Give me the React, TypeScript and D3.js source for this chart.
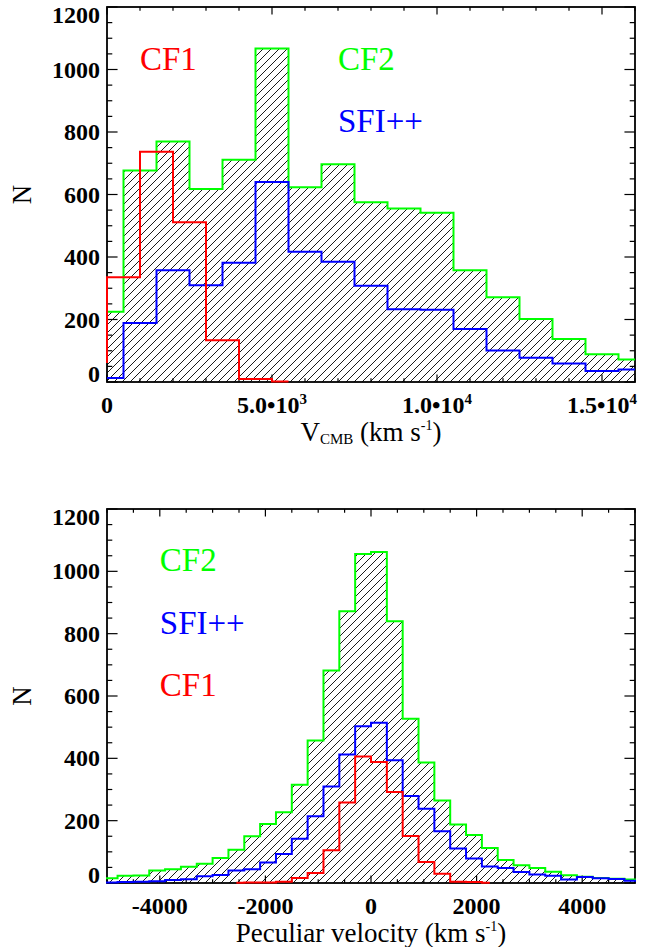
import React from 'react';
import * as d3 from 'd3';

// V_CMB histograms (bin centres in km/s, counts)
const vcmbBins = [0, 1000, 2000, 3000, 4000, 5000, 6000, 7000, 8000, 9000, 10000, 11000, 12000, 13000, 14000, 15000, 16000];
const vcmbCF2 = [225, 677, 770, 618, 711, 1067, 623, 697, 575, 555, 542, 358, 271, 202, 138, 89, 72];
const vcmbSFI = [13, 189, 358, 310, 382, 640, 417, 385, 308, 233, 231, 170, 101, 78, 59, 35, 40];
const vcmbCF1Bins = [-500, 500, 1500, 2500, 3500, 4500, 5500];
const vcmbCF1 = [64, 335, 737, 511, 134, 10, 2];
const vcmbTicks = [0, 5000, 10000, 15000];

// peculiar velocity histograms
const pvBins = [-5250, -4950, -4650, -4350, -4050, -3750, -3450, -3150, -2850, -2550, -2250, -1950, -1650, -1350, -1050, -750, -450, -150,
  150, 450, 750, 1050, 1350, 1650, 1950, 2250, 2550, 2850, 3150, 3450, 3750, 4050, 4350, 4650, 4950, 5250];
const pvCF2 = [12, 15, 23, 24, 40, 44, 52, 62, 80, 107, 150, 189, 227, 315, 457, 682, 872, 1056,
  1062, 840, 527, 387, 265, 188, 154, 112, 74, 57, 48, 36, 25, 20, 16, 14, 11, 10];
const pvSFI = [1, 2, 3, 4, 6, 10, 12, 22, 26, 40, 44, 66, 93, 142, 214, 310, 412, 503,
  514, 394, 279, 238, 166, 111, 79, 53, 48, 35, 27, 23, 11, 19, 15, 13, 7, 6];
const pvCF1Bins = [-2550, -2250, -1950, -1650, -1350, -1050, -750, -450, -150, 150, 450, 750, 1050, 1350, 1650, 1950, 2250];
const pvCF1 = [1, 2, 2, 4, 16, 32, 105, 258, 406, 388, 292, 151, 67, 30, 4, 3, 1];
const pvTicks = [-4000, -2000, 0, 2000, 4000];

const yTicks = [0, 200, 400, 600, 800, 1000, 1200];

const FONT = 'Liberation Serif';
const GREEN = '#00ff00';
const BLUE = '#0000ff';
const RED = '#ff0000';

type Series = { bins: number[]; counts: number[]; color: string };
type Note = { x: number; y: number; text: string; color: string };

function expLabel(v: number) {
  if (v === 0) return '0';
  const [m, e] = v.toExponential(1).split('e');
  return (
    <>
      {m}•10<tspan fontSize={15} dy={-9}>{+e}</tspan>
    </>
  );
}

function Panel(props: {
  id: string;
  top: number;
  bottom: number;
  xDomain: [number, number];
  xTicks: number[];
  xMinorStep: number;
  xFormat: (v: number) => React.ReactNode;
  title: React.ReactNode;
  fill: Series;
  lines: Series[];
  notes: Note[];
}) {
  const { id, top, bottom, xDomain, xTicks, xMinorStep, xFormat, title, fill, lines, notes } = props;
  const left = 107;
  const right = 635;
  const x = d3.scaleLinear().domain(xDomain).range([left, right]);
  const y = d3.scaleLinear().domain([0, 1200]).range([bottom, top]);
  const pts = (s: Series) => s.bins.map((b, i) => [b, s.counts[i]] as [number, number]);
  const step = d3
    .line<[number, number]>()
    .x((d) => x(d[0]))
    .y((d) => y(d[1]))
    .curve(d3.curveStep);
  const area = d3
    .area<[number, number]>()
    .x((d) => x(d[0]))
    .y0(y(0))
    .y1((d) => y(d[1]))
    .curve(d3.curveStep);

  const xMinor = d3.range(xDomain[0], xDomain[1] + 1, xMinorStep);
  const yMinor = d3.range(0, 1201, 50);
  const xLen = 0.02 * (bottom - top);
  const yLen = 0.02 * (right - left);

  return (
    <g>
      <defs>
        <clipPath id={`clip-${id}`}>
          <rect x={left} y={top} width={right - left} height={bottom - top} />
        </clipPath>
        <clipPath id={`clipl-${id}`}>
          <rect x={left - 1} y={top} width={right - left + 2} height={bottom - top + 1.5} />
        </clipPath>
      </defs>
      <path d={area(pts(fill)) || ''} fill="url(#hatch)" clipPath={`url(#clip-${id})`} />

      {/* frame and ticks */}
      <rect x={left} y={top} width={right - left} height={bottom - top} fill="none" stroke="#000" strokeWidth={1.8} />
      <g stroke="#000" strokeWidth={1.2}>
        {xMinor.map((v) => {
          const len = xTicks.includes(v) ? xLen : xLen / 2;
          return (
            <g key={`x${v}`}>
              <line x1={x(v)} x2={x(v)} y1={bottom} y2={bottom - len} />
              <line x1={x(v)} x2={x(v)} y1={top} y2={top + len} />
            </g>
          );
        })}
        {yMinor.map((v) => {
          const len = yTicks.includes(v) ? yLen : yLen / 2;
          return (
            <g key={`y${v}`}>
              <line x1={left} x2={left + len} y1={y(v)} y2={y(v)} />
              <line x1={right} x2={right - len} y1={y(v)} y2={y(v)} />
            </g>
          );
        })}
      </g>

      <g clipPath={`url(#clipl-${id})`} fill="none" strokeWidth={2}>
        {lines.map((s) => (
          <path key={s.color} d={step(pts(s)) || ''} stroke={s.color} />
        ))}
      </g>

      {xTicks.map((v) => (
        <text key={`xl${v}`} x={x(v)} y={bottom + 31} textAnchor="middle"
          fontFamily={FONT} fontWeight="bold" fontSize={24} fill="#000">
          {xFormat(v)}
        </text>
      ))}
      {yTicks.map((v) => {
        const c = Math.min(Math.max(y(v), top + 8), bottom - 8);
        return (
          <text key={`yl${v}`} x={100} y={c + 8} textAnchor="end"
            fontFamily={FONT} fontWeight="bold" fontSize={24} fill="#000">
            {v}
          </text>
        );
      })}

      <text x={(left + right) / 2} y={bottom + 59} textAnchor="middle" fontFamily={FONT} fontSize={27} fill="#000">
        {title}
      </text>
      <text transform={`translate(31,${(top + bottom) / 2}) rotate(-90)`} textAnchor="middle"
        fontFamily={FONT} fontSize={27} fill="#000">
        N
      </text>

      {notes.map((n) => (
        <text key={n.text} x={x(n.x)} y={y(n.y)} fill={n.color} fontFamily={FONT} fontSize={33}>
          {n.text}
        </text>
      ))}
    </g>
  );
}

export default function App(): JSX.Element {
  return (
    <svg
      width={657}
      height={947}
      style={{ position: 'absolute', left: 0, top: 0, background: '#fff' }}
    >
      <defs>
        <pattern id="hatch" patternUnits="userSpaceOnUse" width={8} height={8}>
          <path d="M-2,2 L2,-2 M0,8 L8,0 M6,10 L10,6" stroke="#000" strokeWidth={0.9} />
        </pattern>
      </defs>
      <rect width={657} height={947} fill="#fff" />
      <Panel
        id="vcmb"
        top={7}
        bottom={382}
        xDomain={[0, 16000]}
        xTicks={vcmbTicks}
        xMinorStep={1000}
        xFormat={expLabel}
        title={
          <>
            V<tspan fontSize={15} dy={3}>CMB</tspan>
            <tspan dy={-3}> (km s</tspan>
            <tspan fontSize={14} dy={-11}>-1</tspan>
            <tspan dy={11}>)</tspan>
          </>
        }
        fill={{ bins: vcmbBins, counts: vcmbCF2, color: GREEN }}
        lines={[
          { bins: vcmbBins, counts: vcmbCF2, color: GREEN },
          { bins: vcmbBins, counts: vcmbSFI, color: BLUE },
          { bins: vcmbCF1Bins, counts: vcmbCF1, color: RED },
        ]}
        notes={[
          { x: 1000, y: 1000, text: 'CF1', color: RED },
          { x: 7000, y: 1000, text: 'CF2', color: GREEN },
          { x: 7000, y: 800, text: 'SFI++', color: BLUE },
        ]}
      />
      <Panel
        id="pv"
        top={509}
        bottom={883}
        xDomain={[-5000, 5000]}
        xTicks={pvTicks}
        xMinorStep={500}
        xFormat={(v) => String(v)}
        title={
          <>
            Peculiar velocity (km s
            <tspan fontSize={14} dy={-11}>-1</tspan>
            <tspan dy={11}>)</tspan>
          </>
        }
        fill={{ bins: pvBins, counts: pvCF2, color: GREEN }}
        lines={[
          { bins: pvBins, counts: pvCF2, color: GREEN },
          { bins: pvBins, counts: pvSFI, color: BLUE },
          { bins: pvCF1Bins, counts: pvCF1, color: RED },
        ]}
        notes={[
          { x: -4000, y: 1000, text: 'CF2', color: GREEN },
          { x: -4000, y: 800, text: 'SFI++', color: BLUE },
          { x: -4000, y: 600, text: 'CF1', color: RED },
        ]}
      />
    </svg>
  );
}
